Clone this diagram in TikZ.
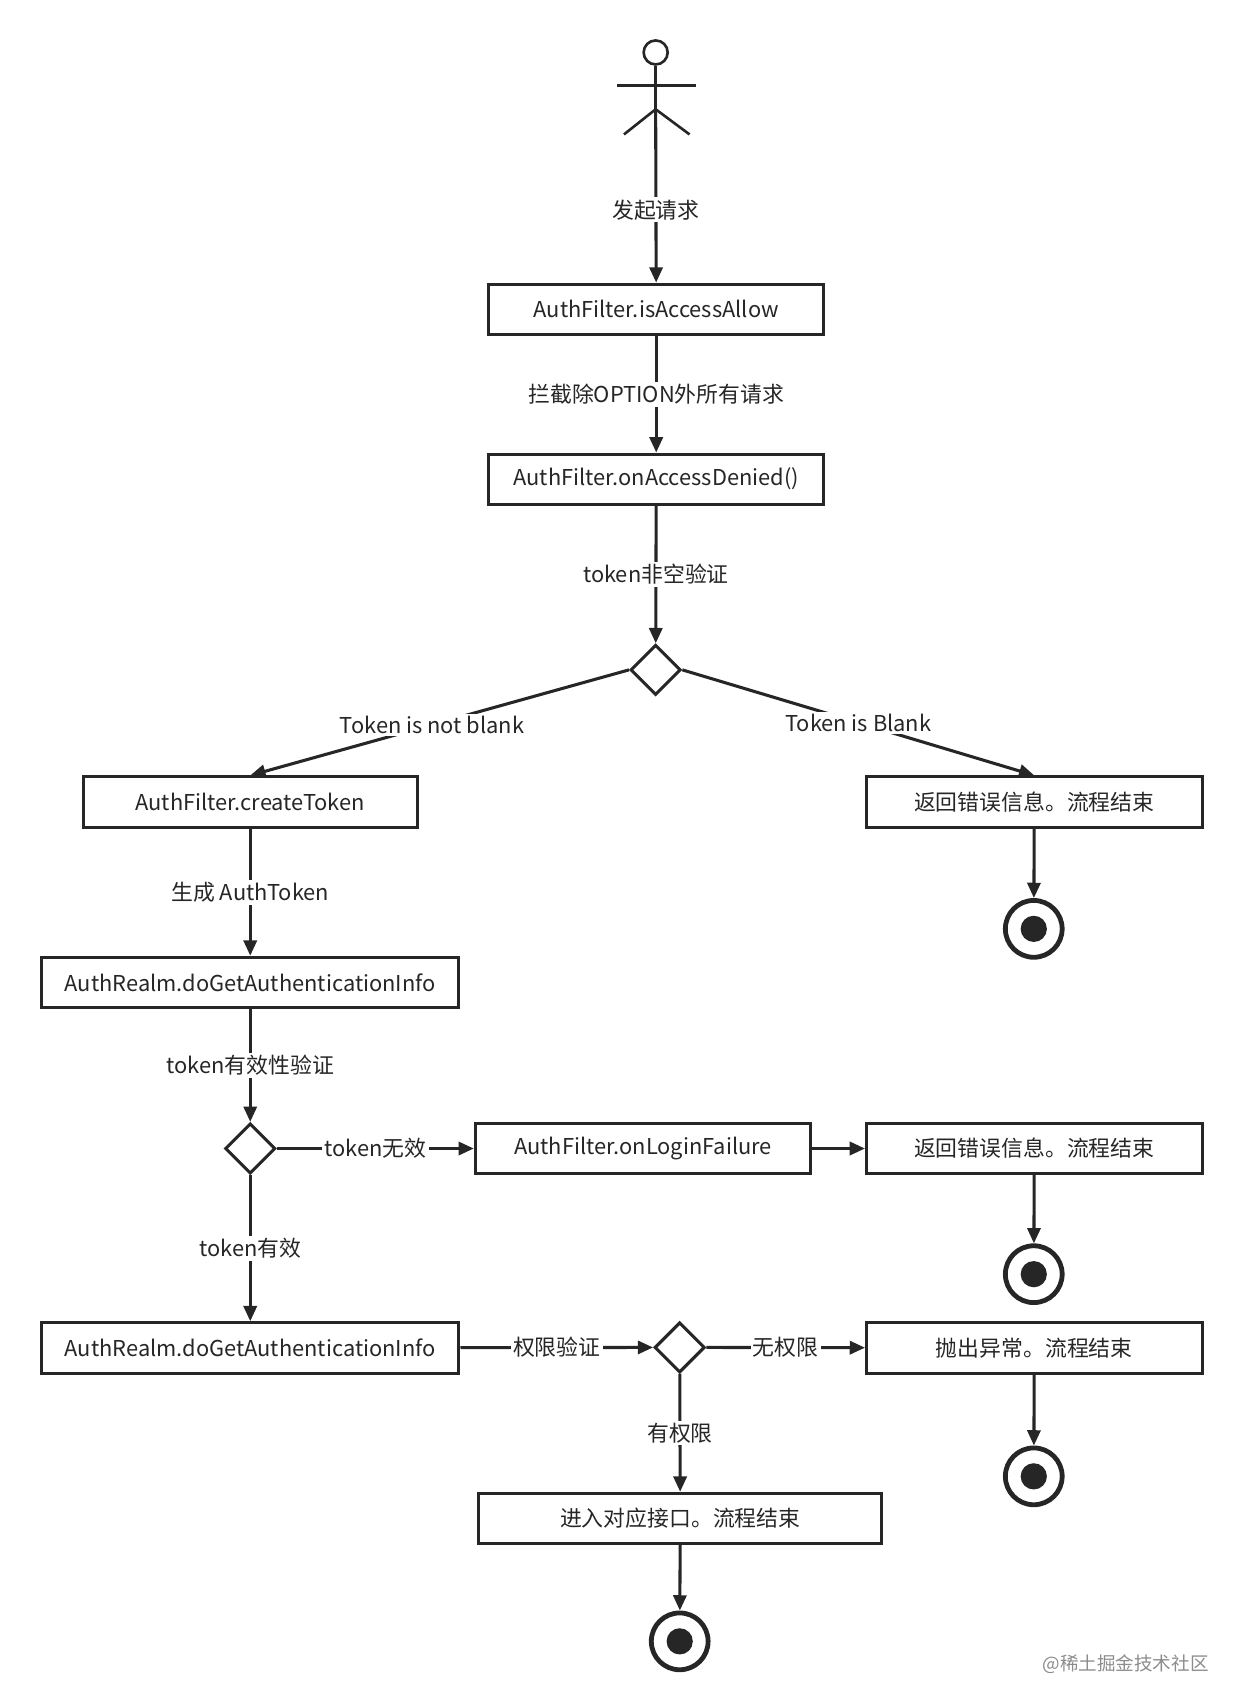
\documentclass[tikz,border=0pt]{standalone}
\usepackage{fontspec}
\setmainfont{Noto Sans CJK SC}
\usetikzlibrary{arrows.meta,shapes.geometric}
\begin{document}
\begin{tikzpicture}[x=0.5pt,y=-0.5pt,
  line width=1.4pt, draw=black!85, text=black!85,
  font=\fontsize{10}{12}\selectfont,
  arr/.style={-{Triangle[length=7pt,width=6pt]}},
  box/.style={draw, rectangle, inner sep=0pt},
  lbl/.style={fill=white, inner sep=1pt},
  dia/.style={draw, diamond, minimum width=23pt, minimum height=23pt, inner sep=0pt, fill=white},
  endc/.style={draw, circle, line width=2.2pt, minimum size=26pt, inner sep=0pt, path picture={\fill[black!85] (path picture bounding box.center) circle (6pt);}}]
\useasboundingbox (0,0) rectangle (1135,1563);
% actor
\node[draw, circle, minimum size=11pt, inner sep=0pt, line width=1.2pt] (head) at (600,48) {};
\coordinate (hip) at (600,100);
\draw[line width=1.2pt] (head.south) -- (hip);
\draw[line width=1.2pt] (565,78) -- (637,78);
\draw[line width=1.2pt] (571,123) -- (hip) -- (631,123);
% boxes
\node[box, minimum width=153.5pt, minimum height=23pt] (b1) at (600.5,283) {AuthFilter.isAccessAllow};
\node[box, minimum width=153.5pt, minimum height=23pt] (b2) at (600.5,438.5) {AuthFilter.onAccessDenied()};
\node[dia] (d1) at (600,613) {};
\node[box, minimum width=153pt, minimum height=23pt] (b3) at (229,734) {AuthFilter.createToken};
\node[box, minimum width=153.5pt, minimum height=23pt] (b4) at (946.5,734) {返回错误信息。流程结束};
\node[endc] (e1) at (946,850) {};
\node[box, minimum width=191pt, minimum height=23pt] (b5) at (229,899) {AuthRealm.doGetAuthenticationInfo};
\node[dia] (d2) at (229,1051) {};
\node[box, minimum width=153.5pt, minimum height=23pt] (b6) at (588.5,1051) {AuthFilter.onLoginFailure};
\node[box, minimum width=153.5pt, minimum height=23pt] (b7) at (946.5,1051) {返回错误信息。流程结束};
\node[endc] (e2) at (946,1166) {};
\node[box, minimum width=191pt, minimum height=23pt] (b8) at (229,1233.5) {AuthRealm.doGetAuthenticationInfo};
\node[dia] (d3) at (622,1233) {};
\node[box, minimum width=153.5pt, minimum height=23pt] (b9) at (946.5,1233.5) {抛出异常。流程结束};
\node[endc] (e3) at (946,1351) {};
\node[box, minimum width=184.5pt, minimum height=23pt] (b10) at (622.5,1389.5) {进入对应接口。流程结束};
\node[endc] (e4) at (622,1502) {};
% connectors
\draw[arr] (hip) -- node[lbl, pos=0.58] (l1) {发起请求} (b1);
\draw[arr] (b1) -- node[lbl] (l2) {拦截除OPTION外所有请求} (b2);
\draw[arr] (b2) -- node[lbl] (l3) {token非空验证} (d1);
\draw[arr] (d1.west) -- node[lbl, pos=0.52] (l4) {Token is not blank} (b3.north);
\draw[arr] (d1.east) -- node[lbl, pos=0.5] (l5) {Token is Blank} (b4.north);
\draw[arr] (b4) -- (e1);
\draw[arr] (b3) -- node[lbl] (l6) {生成 AuthToken} (b5);
\draw[arr] (b5) -- node[lbl] (l7) {token有效性验证} (d2);
\draw[arr] (d2) -- node[lbl] (l8) {token无效} (b6);
\draw[arr] (b6) -- (b7);
\draw[arr] (b7) -- (e2);
\draw[arr] (d2) -- node[lbl] (l9) {token有效} (b8);
\draw[arr] (b8) -- node[lbl] (l10) {权限验证} (d3);
\draw[arr] (d3) -- node[lbl] (l11) {无权限} (b9);
\draw[arr] (b9) -- (e3);
\draw[arr] (d3) -- node[lbl] (l12) {有权限} (b10);
\draw[arr] (b10) -- (e4);
\node[text=black!45, font=\fontsize{8.5}{10}\selectfont] (wm) at (1030,1523) {@稀土掘金技术社区};
\end{tikzpicture}
\end{document}
